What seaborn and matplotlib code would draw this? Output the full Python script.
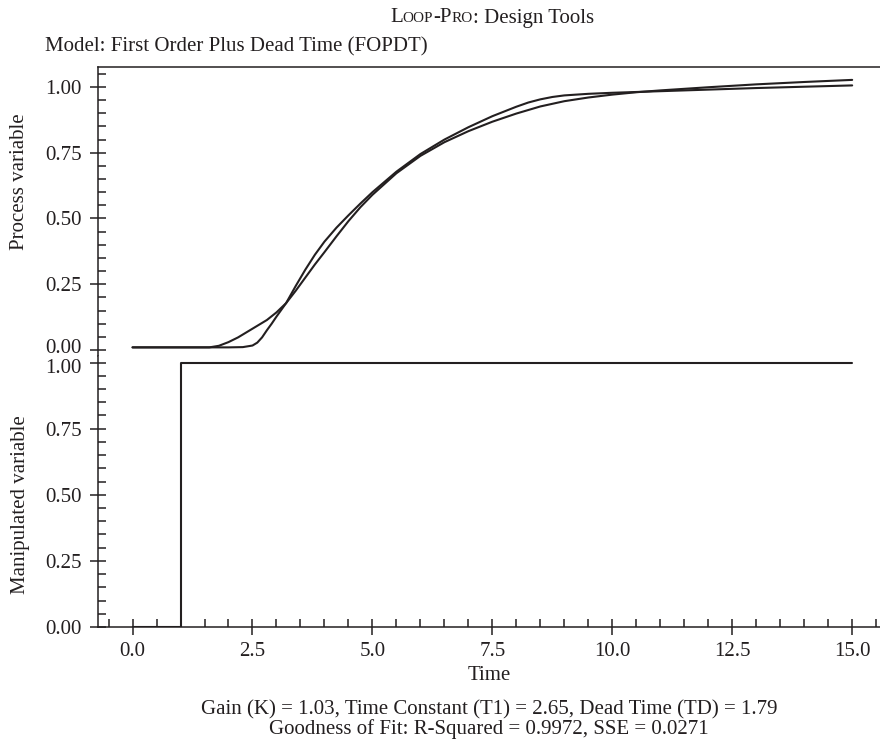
import pandas as pd
import seaborn as sns
import matplotlib
matplotlib.use("Agg")
import matplotlib.pyplot as plt
from matplotlib.ticker import MultipleLocator, FormatStrFormatter
from matplotlib.transforms import ScaledTranslation
from matplotlib.offsetbox import TextArea, HPacker, AnnotationBbox

t_data = [0.0, 1.0, 2.0, 2.3, 2.5, 2.6, 2.7, 2.8, 2.9, 3.0, 3.2, 3.4, 3.6, 3.8, 4.0,
          4.25, 4.5, 4.75, 5.0, 5.5, 6.0, 6.5, 7.0, 7.5, 8.0, 8.25, 8.5, 8.75, 9.0,
          9.5, 10.0, 10.5, 11.0, 12.0, 13.0, 14.0, 15.0]
pv_data = [0.010, 0.010, 0.010, 0.011, 0.017, 0.028, 0.048, 0.075, 0.100, 0.127, 0.178,
           0.243, 0.305, 0.362, 0.412, 0.465, 0.512, 0.557, 0.600, 0.678, 0.745, 0.800,
           0.847, 0.889, 0.925, 0.941, 0.953, 0.962, 0.968, 0.974, 0.978, 0.981, 0.984,
           0.990, 0.996, 1.001, 1.006]

t_model = [0.0, 1.0, 1.6, 1.8, 2.0, 2.2, 2.4, 2.6, 2.8, 3.0, 3.2, 3.4, 3.6, 3.8, 4.0,
           4.25, 4.5, 4.75, 5.0, 5.5, 6.0, 6.5, 7.0, 7.5, 8.0, 8.5, 9.0, 9.5, 10.0,
           10.5, 11.0, 11.5, 12.0, 13.0, 14.0, 15.0]
pv_model = [0.010, 0.010, 0.010, 0.016, 0.030, 0.048, 0.070, 0.092, 0.114, 0.143, 0.178,
            0.225, 0.275, 0.325, 0.372, 0.432, 0.490, 0.543, 0.590, 0.672, 0.738, 0.790,
            0.832, 0.868, 0.899, 0.926, 0.946, 0.960, 0.971, 0.980, 0.987, 0.993, 0.999,
            1.010, 1.019, 1.027]

# manipulated variable step
t_mv = [0.0, 1.0, 1.0, 15.0]
mv = [0.0, 0.0, 1.0, 1.0]

INK = "#231f20"

sns.set_style("ticks")
plt.rcParams["font.family"] = ["Liberation Serif", "DejaVu Serif"]
plt.rcParams["font.size"] = 15
plt.rcParams["axes.linewidth"] = 1.1
plt.rcParams["axes.edgecolor"] = INK
plt.rcParams["text.color"] = INK
plt.rcParams["xtick.color"] = INK
plt.rcParams["ytick.color"] = INK

pv_df = pd.concat([
    pd.DataFrame({"Time": t_data, "value": pv_data, "series": "data"}),
    pd.DataFrame({"Time": t_model, "value": pv_model, "series": "model"}),
])
mv_df = pd.DataFrame({"Time": t_mv, "value": mv})

W, H = 880, 747
fig = plt.figure(figsize=(W / 100, H / 100), dpi=100)
left = 98 / W
ax_top = fig.add_axes([left, 1 - 356 / H, 1 - left, (356 - 67) / H])
ax_bot = fig.add_axes([left, 1 - 627 / H, 1 - left, (627 - 356) / H], sharex=ax_top)

sns.lineplot(data=pv_df, x="Time", y="value", hue="series", palette=[INK, INK],
             estimator=None, sort=False, lw=1.5, legend=False, ax=ax_top)
sns.lineplot(data=mv_df, x="Time", y="value", color=INK, estimator=None, sort=False,
             lw=1.5, ax=ax_bot)

ax_top.set_ylim(-0.0228, 1.076)
ax_bot.set_ylim(0, 1.025)
ax_bot.set_xlim(-0.72, 15.58)

for ax in (ax_top, ax_bot):
    ax.set_xlabel("")
    ax.set_ylabel("")
    ax.spines["right"].set_visible(False)
    ax.set_yticks([0, 0.25, 0.5, 0.75, 1.0])
    ax.yaxis.set_minor_locator(MultipleLocator(0.05))
    ax.yaxis.set_major_formatter(FormatStrFormatter("%.2f"))
    ax.tick_params(which="major", direction="inout", length=11, width=1.1, labelsize=15, pad=6)
    ax.tick_params(which="minor", direction="in", length=6, width=1.1)

ax_top.spines["bottom"].set_visible(False)
ax_top.tick_params(axis="x", which="both", bottom=False, labelbottom=False)
ax_bot.spines["top"].set_visible(False)
ax_bot.xaxis.set_major_locator(MultipleLocator(2.5))
ax_bot.xaxis.set_minor_locator(MultipleLocator(0.5))
ax_bot.xaxis.set_major_formatter(FormatStrFormatter("%.1f"))
ax_bot.tick_params(axis="x", which="major", pad=5)

# the 0.00 / 1.00 labels at the seam are nudged apart, as in the original
lab = ax_top.yaxis.get_major_ticks()[0].label1
lab.set_transform(lab.get_transform() + ScaledTranslation(0, 4 / 100, fig.dpi_scale_trans))
lab = ax_bot.yaxis.get_major_ticks()[-1].label1
lab.set_transform(lab.get_transform() + ScaledTranslation(0, -3 / 100, fig.dpi_scale_trans))

fig.text(20 / W, 1 - 182 / H, "Process variable", rotation=90, ha="center", va="center", fontsize=15)
fig.text(20 / W, 1 - 505 / H, "Manipulated variable", rotation=90, ha="center", va="center", fontsize=15)

fig.text(45 / W, 1 - 51 / H, "Model: First Order Plus Dead Time (FOPDT)", ha="left", va="baseline", fontsize=15)

# small caps title
parts = [("L", 15), ("OOP", 11), ("-P", 15), ("RO", 11), (": Design Tools", 15)]
areas = [TextArea(s, textprops=dict(fontsize=fs, color=INK, family=["Liberation Serif"])) for s, fs in parts]
box = HPacker(children=areas, align="baseline", pad=0, sep=0)
fig.add_artist(AnnotationBbox(box, (492, H - 18), xycoords="figure pixels", frameon=False,
                              box_alignment=(0.5, 0.5)))

cx = 489 / W
fig.text(cx, 1 - 676 / H, "Time", ha="center", va="center", fontsize=15)
fig.text(cx, 1 - 710 / H, "Gain (K) = 1.03, Time Constant (T1) = 2.65, Dead Time (TD) = 1.79",
         ha="center", va="center", fontsize=15)
fig.text(cx, 1 - 729 / H, "Goodness of Fit: R-Squared = 0.9972, SSE = 0.0271",
         ha="center", va="center", fontsize=15)

fig.savefig("out.png", dpi=100)
plt.close(fig)
